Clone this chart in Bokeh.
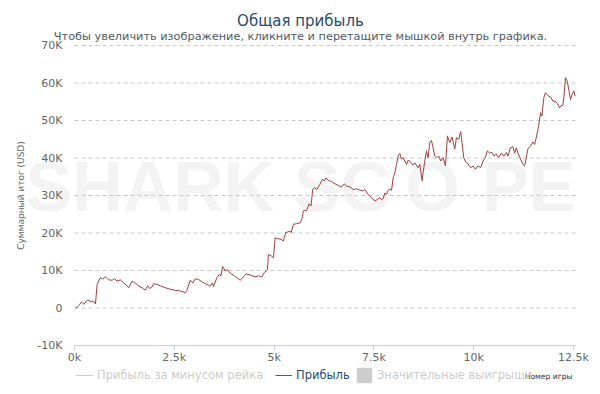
from bokeh.plotting import figure
from bokeh.models import Label, Legend, LegendItem, FixedTicker, Range1d
from bokeh.embed import file_html
from bokeh.resources import INLINE

# ---- data ----
games = [25, 67, 133, 175, 233, 333, 400, 467, 525, 567, 608, 650, 708, 775, 858, 942, 1000,
         1067, 1150, 1233, 1317, 1358, 1442, 1525, 1608, 1692, 1775, 1833, 1883, 1942, 1983,
         2067, 2150, 2275, 2400, 2525, 2600, 2692, 2775, 2817, 2900, 2967, 3025, 3108, 3192,
         3275, 3358, 3400, 3458, 3483, 3567, 3633, 3667, 3708, 3775, 3833, 3900, 3983, 4067,
         4150, 4217, 4300, 4400, 4525, 4608, 4692, 4750, 4800, 4833, 4858, 4925, 4983, 5025,
         5092, 5175, 5233, 5292, 5342, 5400, 5425, 5483, 5567, 5650, 5692, 5733, 5817, 5875,
         5925, 5967, 6008, 6067, 6150, 6208, 6258, 6300, 6358, 6442, 6525, 6608, 6692, 6758,
         6817, 6900, 6983, 7067, 7150, 7233, 7275, 7358, 7442, 7525, 7592, 7650, 7692, 7733,
         7775, 7817, 7858, 7900, 7942, 7983, 8025, 8067, 8108, 8150, 8192, 8233, 8275, 8317,
         8358, 8417, 8483, 8525, 8608, 8650, 8708, 8733, 8775, 8817, 8858, 8900, 8942, 8983,
         9025, 9067, 9125, 9175, 9233, 9292, 9342, 9400, 9458, 9525, 9567, 9625, 9675, 9708,
         9750, 9800, 9858, 9925, 9983, 10042, 10108, 10175, 10233, 10292, 10342, 10400, 10458,
         10508, 10567, 10625, 10692, 10758, 10817, 10858, 10917, 10983, 11025, 11067, 11108,
         11175, 11233, 11275, 11317, 11358, 11425, 11483, 11525, 11567, 11625, 11675, 11708,
         11758, 11792, 11842, 11875, 11925, 11983, 12042, 12092, 12150, 12192, 12233, 12258,
         12300, 12342, 12375, 12425, 12467, 12508, 12542]
profit = [0, 200, 1000, 1600, 1000, 2200, 1700, 1900, 1100, 6300, 7200, 8100, 7700, 8300, 7500,
          7400, 7800, 7200, 7500, 6700, 5900, 5400, 7200, 6600, 5900, 5400, 4800, 5900, 5200,
          5600, 6500, 6300, 5900, 5400, 5000, 4700, 4700, 4400, 4100, 4700, 7400, 6700, 7800,
          7600, 7000, 6500, 6100, 5800, 6700, 5700, 8100, 9000, 8500, 11100, 9900, 10200, 9300,
          8700, 8100, 7400, 8100, 9100, 8800, 8300, 8600, 8300, 9400, 9900, 10300, 14300, 13900,
          13400, 18700, 18500, 18300, 17900, 20100, 20300, 20500, 20100, 22300, 22500, 22700,
          23600, 25900, 26000, 27800, 27200, 31600, 32100, 31600, 33000, 34300, 33900, 34700,
          34000, 33700, 33100, 32700, 32300, 33100, 32500, 32300, 31600, 31800, 31400, 31200,
          31600, 30300, 29400, 28500, 29000, 29400, 28900, 29200, 30700, 30300, 31400, 31700,
          31400, 34700, 36100, 38300, 40500, 41200, 39700, 40100, 39200, 38300, 39400, 39000,
          38100, 38700, 37400, 38300, 33900, 36100, 39200, 41900, 40100, 44100, 44700, 42700,
          40500, 40100, 40500, 39200, 40100, 37900, 45900, 44100, 45600, 42400, 45400, 45000,
          47000, 44100, 40100, 38900, 38400, 37400, 37900, 37000, 37900, 37400, 39200, 40100,
          41900, 41300, 41500, 40500, 41100, 40100, 41300, 40500, 41500, 40500, 42700, 43000,
          41300, 42700, 41300, 39700, 38300, 37900, 40100, 42500, 43200, 44300, 43600, 45400,
          48500, 52100, 51200, 56100, 57400, 56900, 56500, 56300, 55200, 55200, 54600, 53400,
          53900, 54100, 56100, 61400, 60500, 58700, 55600, 57000, 57900, 56500]

x_ticks = [0, 2500, 5000, 7500, 10000, 12500]
x_tick_labels = ["0k", "2.5k", "5k", "7.5k", "10k", "12.5k"]
x_max = 12550
y_ticks = [-10000, 0, 10000, 20000, 30000, 40000, 50000, 60000, 70000]
y_tick_labels = ["-10K", "0", "10K", "20K", "30K", "40K", "50K", "60K", "70K"]

title_text = "Общая прибыль"
subtitle_text = "Чтобы увеличить изображение, кликните и перетащите мышкой внутрь графика."
y_title = "Суммарный итог (USD)"
x_title = "Номер игры"
legend_labels = ["Прибыль за минусом рейка", "Прибыль", "Значительные выигрыши"]

FONT = "DejaVu Sans"
LINE = "#a23e3e"
NAN = float("nan")

# canvas geometry: plot area spans px 74..575 horizontally and 45..345 vertically
W, H = 600, 394
L, R, T, B = 74, 575, 45, 345
ppx = (R - L) / x_max
ppy = (B - T) / (y_ticks[-1] - y_ticks[0])
x_lo = -L / ppx
x_hi = x_max + (W - R) / ppx
y_lo = y_ticks[0] - (H - B) / ppy
y_hi = y_ticks[-1] + T / ppy

p = figure(width=W, height=H, output_backend="svg", toolbar_location=None, title=None,
           x_range=Range1d(x_lo, x_hi), y_range=Range1d(y_lo, y_hi),
           min_border_left=0, min_border_right=0, min_border_top=0, min_border_bottom=0)
p.outline_line_color = None
p.background_fill_color = "white"
p.xgrid.grid_line_color = None
p.ygrid.grid_line_color = None

# watermark
wm_y = H - 186
wm_style = dict(x_units="screen", y_units="screen", text_font="Liberation Sans",
                text_font_style="bold", text_font_size="70px", text_color="#f3f3f3",
                text_baseline="alphabetic", level="underlay")
p.add_layout(Label(x=25, y=wm_y, text="SHARK SC", text_align="left", **wm_style))
p.add_layout(Label(x=432, y=wm_y, text="O", text_align="center", **wm_style))
p.add_layout(Label(x=575, y=wm_y, text="PE", text_align="right", **wm_style))

# dashed horizontal grid lines between the plot-area bounds
p.segment(x0=[x_ticks[0]] * (len(y_ticks) - 1), x1=[x_max] * (len(y_ticks) - 1),
          y0=y_ticks[1:], y1=y_ticks[1:], line_color="#C8C8C8", line_width=1, line_dash="4 3")

# axes
p.xaxis.fixed_location = y_ticks[0]
p.xaxis.bounds = (0, x_max)
p.xaxis.ticker = FixedTicker(ticks=x_ticks)
p.xaxis.major_label_overrides = dict(zip(x_ticks, x_tick_labels))
p.xaxis.axis_line_color = "#C0D0E0"
p.xaxis.major_tick_line_color = "#C0D0E0"
p.xaxis.major_tick_in = 0
p.xaxis.major_tick_out = 5
p.xaxis.minor_tick_line_color = None
p.xaxis.major_label_standoff = 0
p.xaxis.major_label_text_font = FONT
p.xaxis.major_label_text_font_size = "11px"
p.xaxis.major_label_text_color = "#666666"

p.yaxis.fixed_location = 0
p.yaxis.bounds = (y_ticks[0], y_ticks[-1])
p.yaxis.ticker = FixedTicker(ticks=y_ticks)
p.yaxis.major_label_overrides = dict(zip(y_ticks, y_tick_labels))
p.yaxis.axis_line_color = None
p.yaxis.major_tick_line_color = None
p.yaxis.minor_tick_line_color = None
p.yaxis.major_tick_out = 0
p.yaxis.major_tick_in = 0
p.yaxis.major_label_standoff = 12
p.yaxis.major_label_text_font = FONT
p.yaxis.major_label_text_font_size = "11px"
p.yaxis.major_label_text_color = "#666666"
p.yaxis.axis_label = y_title
p.yaxis.axis_label_text_font = FONT
p.yaxis.axis_label_text_font_size = "9px"
p.yaxis.axis_label_text_font_style = "normal"
p.yaxis.axis_label_text_color = "#666666"
p.yaxis.axis_label_standoff = 8

# series
r_net = p.line([NAN], [NAN], line_color="#cccccc", line_width=1)
r_profit = p.line(games, profit, line_color=LINE, line_width=1)
r_big = p.quad(left=[NAN], right=[NAN], top=[NAN], bottom=[NAN],
               fill_color="#cccccc", line_color="#cccccc")

common = dict(border_line_color=None, background_fill_alpha=0, padding=0, margin=0, spacing=0,
              label_text_font=FONT, label_text_font_size="11.5px", label_standoff=4)
lg1 = Legend(items=[LegendItem(label=legend_labels[0], renderers=[r_net], index=0)],
             location=(75, 12), glyph_width=18, glyph_height=14, label_height=14,
             label_text_color="#cccccc", **common)
lg2 = Legend(items=[LegendItem(label=legend_labels[1], renderers=[r_profit])], location=(275, 12),
             glyph_width=17, glyph_height=14, label_height=14, label_text_color="#274b6d", **common)
lg3 = Legend(items=[LegendItem(label=legend_labels[2], renderers=[r_big], index=0)],
             location=(355, 10), glyph_width=18, glyph_height=18, label_height=18,
             label_text_color="#cccccc", **common)
for lg in (lg1, lg2, lg3):
    p.add_layout(lg)

# texts
p.add_layout(Label(x=W / 2, y=H - 20, x_units="screen", y_units="screen", text=title_text,
                   text_font=FONT, text_font_size="15px", text_color="#274b6d",
                   text_align="center", text_baseline="alphabetic"))
p.add_layout(Label(x=W / 2, y=H - 36, x_units="screen", y_units="screen", text=subtitle_text,
                   text_font=FONT, text_font_size="11.3px", text_color="#4f5a66",
                   text_align="center", text_baseline="alphabetic"))
p.add_layout(Label(x=572, y=H - 376, x_units="screen", y_units="screen", text=x_title,
                   text_font=FONT, text_font_size="7.6px", text_color="#333333",
                   text_align="right", text_baseline="alphabetic"))

open("out.html", "w").write(file_html(p, INLINE))
